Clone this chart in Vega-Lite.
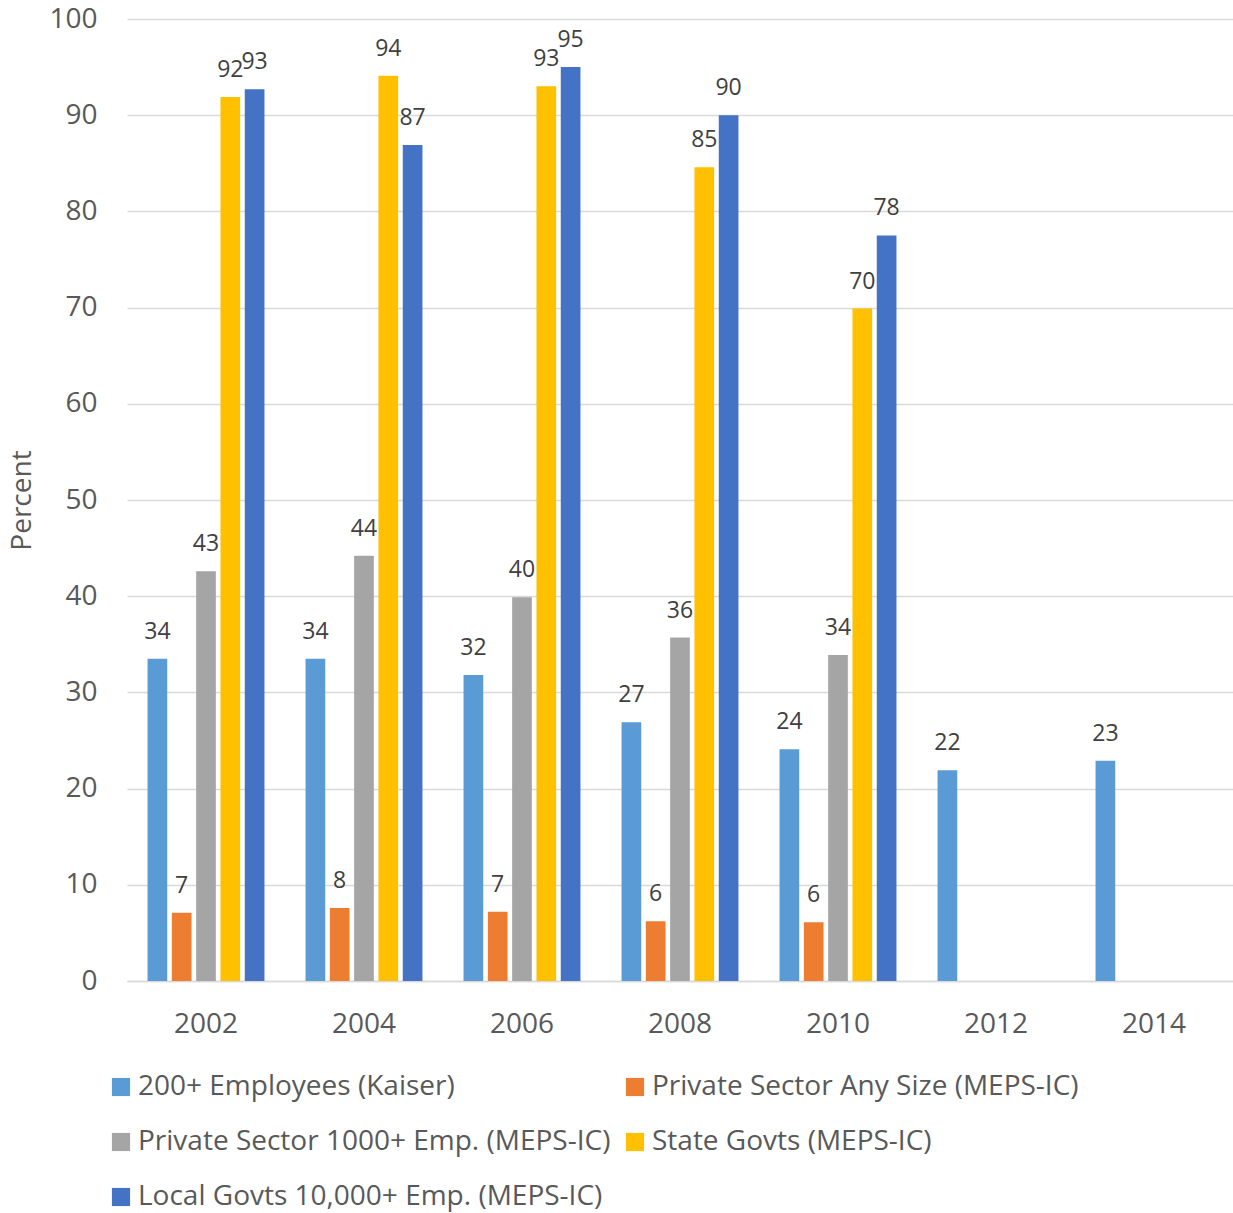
{
  "$schema": "https://vega.github.io/schema/vega-lite/v6.json",
  "width": 1106,
  "height": 962,
  "autosize": {"type": "none"},
  "padding": {"left": 127, "top": 19, "right": 0, "bottom": 232},
  "background": "white",
  "config": {
    "font": "Open Sans",
    "view": {"stroke": null},
    "axis": {"labelFont": "Open Sans", "titleFont": "Open Sans", "labelColor": "#595959", "titleColor": "#595959"},
    "legend": {"labelFont": "Open Sans"}
  },
  "data": {
    "values": [
      {"year": "2002", "series": "200+ Employees (Kaiser)", "value": 33.5},
      {"year": "2002", "series": "Private Sector Any Size (MEPS-IC)", "value": 7.1},
      {"year": "2002", "series": "Private Sector 1000+ Emp. (MEPS-IC)", "value": 42.6},
      {"year": "2002", "series": "State Govts (MEPS-IC)", "value": 91.9},
      {"year": "2002", "series": "Local Govts 10,000+ Emp. (MEPS-IC)", "value": 92.7},
      {"year": "2004", "series": "200+ Employees (Kaiser)", "value": 33.5},
      {"year": "2004", "series": "Private Sector Any Size (MEPS-IC)", "value": 7.6},
      {"year": "2004", "series": "Private Sector 1000+ Emp. (MEPS-IC)", "value": 44.2},
      {"year": "2004", "series": "State Govts (MEPS-IC)", "value": 94.1},
      {"year": "2004", "series": "Local Govts 10,000+ Emp. (MEPS-IC)", "value": 86.9},
      {"year": "2006", "series": "200+ Employees (Kaiser)", "value": 31.8},
      {"year": "2006", "series": "Private Sector Any Size (MEPS-IC)", "value": 7.2},
      {"year": "2006", "series": "Private Sector 1000+ Emp. (MEPS-IC)", "value": 39.9},
      {"year": "2006", "series": "State Govts (MEPS-IC)", "value": 93.0},
      {"year": "2006", "series": "Local Govts 10,000+ Emp. (MEPS-IC)", "value": 95.0},
      {"year": "2008", "series": "200+ Employees (Kaiser)", "value": 26.9},
      {"year": "2008", "series": "Private Sector Any Size (MEPS-IC)", "value": 6.2},
      {"year": "2008", "series": "Private Sector 1000+ Emp. (MEPS-IC)", "value": 35.7},
      {"year": "2008", "series": "State Govts (MEPS-IC)", "value": 84.6},
      {"year": "2008", "series": "Local Govts 10,000+ Emp. (MEPS-IC)", "value": 90.0},
      {"year": "2010", "series": "200+ Employees (Kaiser)", "value": 24.1},
      {"year": "2010", "series": "Private Sector Any Size (MEPS-IC)", "value": 6.1},
      {"year": "2010", "series": "Private Sector 1000+ Emp. (MEPS-IC)", "value": 33.9},
      {"year": "2010", "series": "State Govts (MEPS-IC)", "value": 69.9},
      {"year": "2010", "series": "Local Govts 10,000+ Emp. (MEPS-IC)", "value": 77.5},
      {"year": "2012", "series": "200+ Employees (Kaiser)", "value": 21.9},
      {"year": "2014", "series": "200+ Employees (Kaiser)", "value": 22.9}
    ]
  },
  "encoding": {
    "x": {
      "field": "year", "type": "nominal",
      "scale": {"paddingInner": 0.26, "paddingOuter": 0.13},
      "axis": {"title": null, "labelAngle": 0, "labelFontSize": 28, "labelPadding": 29, "ticks": false, "domainColor": "#D9D9D9", "domainWidth": 1.5}
    },
    "xOffset": {
      "field": "series", "type": "nominal",
      "sort": ["200+ Employees (Kaiser)", "Private Sector Any Size (MEPS-IC)", "Private Sector 1000+ Emp. (MEPS-IC)", "State Govts (MEPS-IC)", "Local Govts 10,000+ Emp. (MEPS-IC)"],
      "scale": {"paddingInner": 0.19}
    },
    "y": {
      "field": "value", "type": "quantitative",
      "scale": {"domain": [0, 100], "nice": false},
      "axis": {"title": "Percent", "titleFontSize": 28, "titleFontWeight": "normal", "titlePadding": 12,
               "values": [0, 10, 20, 30, 40, 50, 60, 70, 80, 90, 100], "labelFontSize": 28, "labelPadding": 30,
               "ticks": false, "domain": false, "gridColor": "#D9D9D9", "gridWidth": 1.5}
    }
  },
  "layer": [
    {
      "mark": {"type": "bar"},
      "encoding": {
        "color": {
          "field": "series", "type": "nominal",
          "scale": {
            "domain": ["200+ Employees (Kaiser)", "Private Sector Any Size (MEPS-IC)", "Private Sector 1000+ Emp. (MEPS-IC)", "State Govts (MEPS-IC)", "Local Govts 10,000+ Emp. (MEPS-IC)"],
            "range": ["#5B9BD5", "#ED7D31", "#A5A5A5", "#FFC000", "#4472C4"]
          },
          "legend": {
            "title": null, "orient": "none", "legendX": -20, "legendY": 1054, "direction": "horizontal", "columns": 2,
            "symbolType": "square", "symbolSize": 330, "symbolStrokeWidth": 0, "labelFontSize": 28, "labelColor": "#595959",
            "rowPadding": 27, "columnPadding": 10, "labelOffset": 3, "labelLimit": 700
          }
        }
      }
    },
    {
      "mark": {"type": "text", "fontSize": 23, "color": "#404040", "baseline": "middle", "dy": -27},
      "encoding": {
        "text": {"field": "value", "type": "quantitative", "format": ".0f"}
      }
    }
  ]
}
